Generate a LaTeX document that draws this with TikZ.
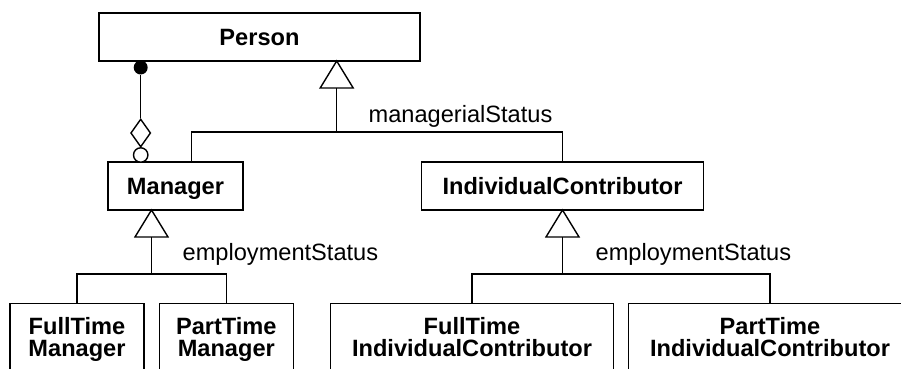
\documentclass[tikz,border=0pt]{standalone}
\usepackage{fontspec}
\setmainfont{Liberation Sans}
\usetikzlibrary{shapes.geometric}
\begin{document}
\begin{tikzpicture}[x=0.5pt,y=-0.5pt,line width=0.7pt,
  cls/.style={draw,font=\bfseries\fontsize{11.8}{11}\selectfont,inner sep=0pt,
    text height=8.4pt,text depth=0pt,minimum height=24pt},
  leaf/.style={draw,font=\bfseries\fontsize{11.8}{11}\selectfont,align=center,
    anchor=north,inner xsep=0pt,inner ysep=6.75pt},
  tag/.style={font=\fontsize{11.8}{14}\selectfont,inner sep=0pt,anchor=base west},
  gen/.style={draw,fill=white,line join=miter}]
\useasboundingbox (0,0) rectangle (901,369);
\clip (0,0) rectangle (901,369);

% classes
\node[cls,minimum width=160.5pt] (person) at (259.5,37) {Person};
\node[cls,minimum width=67.5pt] (manager) at (175.5,186) {Manager};
\node[cls,minimum width=140.8pt] (ic) at (562.5,186) {IndividualContributor};
\node[leaf,minimum width=67pt] (ftm) at (77,303) {FullTime\\Manager};
\node[leaf,minimum width=67pt] (ptm) at (226.3,303) {PartTime\\Manager};
\node[leaf,minimum width=141.3pt] (ftic) at (472,303) {FullTime\\IndividualContributor};
\node[leaf,minimum width=141.7pt] (ptic) at (770,303) {PartTime\\IndividualContributor};

% discriminator labels
\node[tag] (ms) at (368,123) {managerialStatus};
\node[tag] (es1) at (182,261) {employmentStatus};
\node[tag] (es2) at (595,261) {employmentStatus};

% Person <- Manager, IndividualContributor
\coordinate (t1) at (336.7,61);
\coordinate (t1b) at (336.7,88);
\coordinate (b1) at (336.7,132);
\coordinate (m1) at (191.7,0);
\draw (t1b) -- (b1);
\draw (manager.north -| m1) |- (b1) -| (ic.north);
\draw[gen] (t1) -- ++(16.5,27) -- ++(-33,0) -- cycle;

% Manager <- FullTime/PartTime Manager
\coordinate (t2) at (151.5,210);
\coordinate (t2b) at (151.5,237);
\coordinate (b2) at (151.5,274);
\draw (t2b) -- (b2);
\draw (ftm.north) |- (b2) -| (ptm.north);
\draw[gen] (t2) -- ++(16.5,27) -- ++(-33,0) -- cycle;

% IndividualContributor <- FullTime/PartTime IndividualContributor
\coordinate (t3) at (562.5,210);
\coordinate (t3b) at (562.5,237);
\coordinate (b3) at (562.5,274);
\draw (t3b) -- (b3);
\draw (ftic.north) |- (b3) -| (ptic.north);
\draw[gen] (t3) -- ++(16.5,27) -- ++(-33,0) -- cycle;

% aggregation Person <>-- Manager
\node[circle,fill,inner sep=0pt,minimum size=7pt] (dot) at (140.7,67.5) {};
\node[diamond,draw,fill=white,inner sep=0pt,minimum width=10pt,minimum height=14pt] (agg) at (140.7,133) {};
\node[circle,draw,fill=white,inner sep=0pt,minimum size=7.2pt] (opt) at (140.7,155) {};
\draw (dot) -- (agg.north);
\draw (agg.south) -- (opt.north);
\end{tikzpicture}
\end{document}
